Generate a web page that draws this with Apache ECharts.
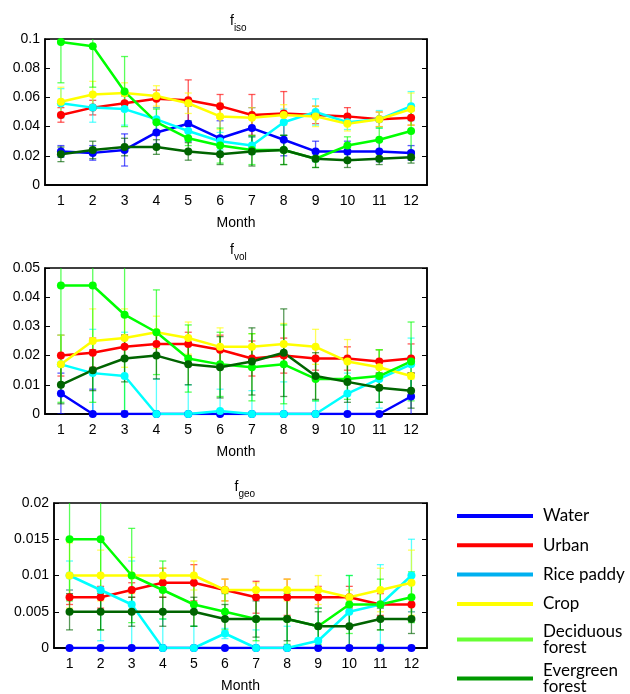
<!DOCTYPE html>
<html><head><meta charset="utf-8">
<script src="https://cdn.jsdelivr.net/npm/echarts@6/dist/echarts.min.js"></script>
<style>html,body{margin:0;padding:0;background:#fff}#c{width:630px;height:694px}</style>
</head><body><div id="c"></div>
<script>
const months = ['1','2','3','4','5','6','7','8','9','10','11','12'];
const classNames = ['Water','Urban','Rice paddy','Crop','Deciduous forest','Evergreen forest'];
const legendLabels = ['Water','Urban','Rice paddy','Crop','Deciduous\nforest','Evergreen\nforest'];
const lineColors = ['#0000ff','#ff0000','#00ffff','#ffff00','#00ff00','#006400'];
const legendColors = ['#0000ff','#ff0000','#00b0f0','#ffff00','#66ff33','#009900'];

// f_iso
const isoWater     = [0.023,0.022,0.024,0.036,0.042,0.032,0.039,0.031,0.023,0.023,0.023,0.022];
const isoWaterErr  = [0.004,0.005,0.011,0.008,0.012,0.012,0.014,0.011,0.007,0.007,0.007,0.005];
const isoUrban     = [0.048,0.053,0.056,0.059,0.058,0.054,0.048,0.049,0.048,0.047,0.045,0.046];
const isoUrbanErr  = [0.005,0.005,0.005,0.006,0.014,0.008,0.014,0.015,0.006,0.006,0.005,0.005];
const isoRice      = [0.056,0.053,0.052,0.045,0.037,0.030,0.027,0.043,0.050,0.043,0.045,0.054];
const isoRiceErr   = [0.010,0.010,0.011,0.008,0.007,0.006,0.006,0.009,0.009,0.005,0.006,0.010];
const isoCrop      = [0.057,0.062,0.063,0.061,0.056,0.047,0.046,0.048,0.047,0.042,0.045,0.052];
const isoCropErr   = [0.010,0.009,0.007,0.007,0.007,0.009,0.007,0.007,0.007,0.005,0.005,0.011];
const isoDecid     = [0.098,0.095,0.064,0.043,0.032,0.027,0.024,0.024,0.018,0.027,0.031,0.037];
const isoDecidErr  = [0.028,0.028,0.024,0.009,0.005,0.012,0.010,0.010,0.006,0.006,0.008,0.014];
const isoEver      = [0.021,0.024,0.026,0.026,0.023,0.021,0.023,0.024,0.018,0.017,0.018,0.019];
const isoEverErr   = [0.005,0.006,0.006,0.005,0.006,0.007,0.010,0.010,0.006,0.005,0.004,0.004];

// f_vol
const volWater     = [0.007,0,0,0,0,0,0,0,0,0,0,0.006];
const volWaterErr  = [0.007,0.0085,0.001,0,0,0,0,0,0,0,0,0.008];
const volUrban     = [0.020,0.021,0.023,0.024,0.024,0.022,0.019,0.020,0.019,0.019,0.018,0.019];
const volUrbanErr  = [0.007,0.005,0.004,0.004,0.004,0.005,0.006,0.006,0.004,0.004,0.004,0.005];
const volRice      = [0.017,0.014,0.013,0,0,0.001,0,0,0,0.007,0.012,0.017];
const volRiceErr   = [0.010,0.015,0.015,0.012,0.010,0.0075,0.008,0.011,0.0045,0.007,0.010,0.009];
const volCrop      = [0.017,0.025,0.026,0.028,0.026,0.023,0.023,0.024,0.023,0.018,0.016,0.013];
const volCropErr   = [0.010,0.011,0.010,0.0055,0.0055,0.0065,0.0045,0.007,0.006,0.0075,0.006,0.001];
const volDecid     = [0.044,0.044,0.034,0.028,0.019,0.017,0.016,0.017,0.012,0.012,0.013,0.018];
const volDecidErr  = [0.040,0.040,0.034,0.0145,0.0115,0.011,0.0115,0.0135,0.0075,0.007,0.009,0.0135];
const volEver      = [0.010,0.015,0.019,0.020,0.017,0.016,0.018,0.021,0.013,0.011,0.009,0.008];
const volEverErr   = [0.0065,0.007,0.008,0.008,0.007,0.0105,0.0115,0.015,0.008,0.007,0.005,0.006];

// f_geo
const geoWater     = [0,0,0,0,0,0,0,0,0,0,0,0];
const geoWaterErr  = [0,0,0,0,0,0,0,0,0,0,0,0];
const geoUrban     = [0.007,0.007,0.008,0.009,0.009,0.008,0.007,0.007,0.007,0.007,0.006,0.006];
const geoUrbanErr  = [0.001,0.0015,0.001,0.002,0.0025,0.0015,0.0022,0.0025,0.0015,0.0015,0.0015,0.001];
const geoRice      = [0.010,0.008,0.006,0,0,0.002,0,0,0.001,0.005,0.006,0.010];
const geoRiceErr   = [0.002,0.007,0.006,0.004,0.003,0.0007,0.0025,0.003,0.0045,0.005,0.0055,0.005];
const geoCrop      = [0.010,0.010,0.010,0.010,0.010,0.008,0.008,0.008,0.008,0.007,0.008,0.009];
const geoCropErr   = [0.0045,0.0035,0.0025,0.001,0.002,0.0015,0.001,0.0015,0.002,0.001,0.003,0.0045];
const geoDecid     = [0.015,0.015,0.010,0.008,0.006,0.005,0.004,0.004,0.003,0.006,0.006,0.007];
const geoDecidErr  = [0.0085,0.0125,0.0065,0.004,0.003,0.0025,0.003,0.0035,0.0025,0.004,0.0035,0.0035];
const geoEver      = [0.005,0.005,0.005,0.005,0.005,0.004,0.004,0.004,0.003,0.003,0.004,0.004];
const geoEverErr   = [0.0025,0.0025,0.002,0.002,0.002,0.002,0.0025,0.003,0.002,0.0027,0.0015,0.002];

const yMax = [0.1, 0.05, 0.02];
const yInterval = [0.02, 0.01, 0.005];
const panelTitles = ['iso','vol','geo'];

const panels = [
  {means:[isoWater,isoUrban,isoRice,isoCrop,isoDecid,isoEver], errs:[isoWaterErr,isoUrbanErr,isoRiceErr,isoCropErr,isoDecidErr,isoEverErr]},
  {means:[volWater,volUrban,volRice,volCrop,volDecid,volEver], errs:[volWaterErr,volUrbanErr,volRiceErr,volCropErr,volDecidErr,volEverErr]},
  {means:[geoWater,geoUrban,geoRice,geoCrop,geoDecid,geoEver], errs:[geoWaterErr,geoUrbanErr,geoRiceErr,geoCropErr,geoDecidErr,geoEverErr]}
];

const gridBoxes = [
  {left:45, top:39, width:382, height:146},
  {left:45, top:268, width:382, height:146},
  {left:54, top:503, width:373, height:147}
];
const titleTops = [9, 238, 475];

const font = '"Liberation Sans", Arial, sans-serif';
const grids = [], xAxes = [], yAxes = [], series = [], titles = [];

panels.forEach((p, gi) => {
  const g = gridBoxes[gi];
  grids.push({left:g.left, top:g.top, width:g.width, height:g.height, show:true, borderColor:'#000', borderWidth:1.5, containLabel:false});
  titles.push({
    text:'{f|f}{s|' + panelTitles[gi] + '}',
    left: g.left + g.width/2 - 11, top: titleTops[gi],
    textStyle:{fontWeight:'normal', rich:{
      f:{fontFamily:font, fontSize:14, fontWeight:'normal', color:'#000', lineHeight:20, verticalAlign:'top'},
      s:{fontFamily:font, fontSize:10, fontWeight:'normal', color:'#000', lineHeight:20, padding:[9,0,0,0], verticalAlign:'top'}
    }}
  });
  xAxes.push({
    type:'category', gridIndex:gi, data:months, position:'bottom',
    axisLine:{show:true, lineStyle:{color:'#000', width:1.5}},
    axisTick:{inside:true, alignWithLabel:true, length:5, lineStyle:{color:'#000', width:1}},
    axisLabel:{fontFamily:font, fontSize:14, color:'#000', margin:9},
    name:'Month', nameLocation:'middle', nameGap:31,
    nameTextStyle:{fontFamily:font, fontSize:14, color:'#000'},
    splitLine:{show:false}
  });
  xAxes.push({
    type:'category', gridIndex:gi, data:months, position:'top',
    axisLine:{show:true, lineStyle:{color:'#000', width:1.5}},
    axisTick:{inside:true, alignWithLabel:true, length:5, lineStyle:{color:'#000', width:1}},
    axisLabel:{show:false}, splitLine:{show:false}
  });
  yAxes.push({
    type:'value', gridIndex:gi, min:0, max:yMax[gi], interval:yInterval[gi], position:'left',
    axisLine:{show:true, lineStyle:{color:'#000', width:1.5}},
    axisTick:{show:true, inside:true, length:5, lineStyle:{color:'#000', width:1}},
    axisLabel:{fontFamily:font, fontSize:14, color:'#000', margin:5},
    splitLine:{show:false}
  });
  yAxes.push({
    type:'value', gridIndex:gi, min:0, max:yMax[gi], interval:yInterval[gi], position:'right',
    axisLine:{show:true, lineStyle:{color:'#000', width:1.5}},
    axisTick:{show:true, inside:true, length:5, lineStyle:{color:'#000', width:1}},
    axisLabel:{show:false}, splitLine:{show:false}
  });

  p.means.forEach((m, si) => {
    const color = lineColors[si];
    const errData = m.map((v, i) => [i, v, p.errs[si][i]]);
    series.push({
      type:'custom', name: classNames[si] + ' err ' + gi,
      xAxisIndex: gi*2, yAxisIndex: gi*2, clip:true, z:2,
      data: errData, encode:{x:0, y:1},
      renderItem: function(params, api){
        const x = api.value(0), v = api.value(1), e = api.value(2);
        if (!e) return null;
        const top = api.coord([x, v + e]);
        const bot = api.coord([x, v - e]);
        const c = 3.5;
        const st = {stroke: color, lineWidth: 1.3, opacity: 0.65};
        return {type:'group', children:[
          {type:'line', shape:{x1:top[0], y1:top[1], x2:bot[0], y2:bot[1]}, style:st},
          {type:'line', shape:{x1:top[0]-c, y1:top[1], x2:top[0]+c, y2:top[1]}, style:st},
          {type:'line', shape:{x1:bot[0]-c, y1:bot[1], x2:bot[0]+c, y2:bot[1]}, style:st}
        ]};
      }
    });
  });
  p.means.forEach((m, si) => {
    series.push({
      type:'line', name: legendLabels[si],
      xAxisIndex: gi*2, yAxisIndex: gi*2, z:3,
      data: m, symbol:'circle', symbolSize:8, showSymbol:true,
      lineStyle:{color: lineColors[si], width:2.5},
      itemStyle:{color: lineColors[si]},
      emphasis:{disabled:true}, animation:false
    });
  });
});

const legendFont = 'Lato, "Open Sans", sans-serif';
const legendText = {fontFamily:legendFont, fontSize:17, color:'#000', lineHeight:16, padding:[0,0,0,5]};
const legends = [
  {data: legendLabels.slice(0,4).map((n,i)=>({name:n, icon:'rect', itemStyle:{color:legendColors[i]}})),
   orient:'vertical', left:457, top:506, padding:0, itemWidth:76, itemHeight:4, itemGap:9.3, textStyle:Object.assign({}, legendText, {lineHeight:20}), selectedMode:false},
  {data: [{name:legendLabels[4], icon:'rect', itemStyle:{color:legendColors[4]}}],
   orient:'vertical', left:457, top:623, padding:0, itemWidth:76, itemHeight:4, textStyle:legendText, selectedMode:false},
  {data: [{name:legendLabels[5], icon:'rect', itemStyle:{color:legendColors[5]}}],
   orient:'vertical', left:457, top:662, padding:0, itemWidth:76, itemHeight:4, textStyle:legendText, selectedMode:false}
];

const chart = echarts.init(document.getElementById('c'), null, {renderer:'canvas'});
chart.setOption({
  animation:false,
  backgroundColor:'#fff',
  title: titles,
  legend: legends,
  grid: grids,
  xAxis: xAxes,
  yAxis: yAxes,
  series: series
});
</script>
</body></html>
